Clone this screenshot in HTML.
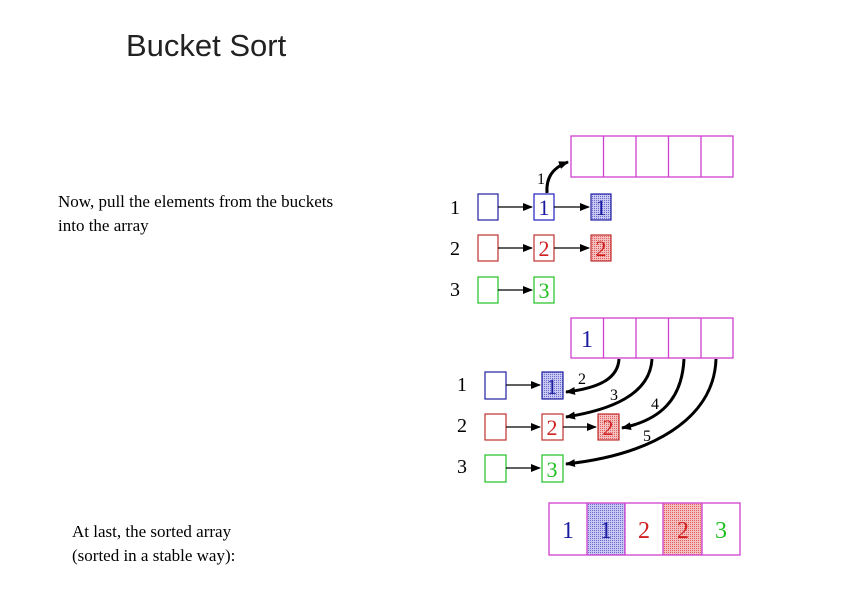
<!DOCTYPE html>
<html><head><meta charset="utf-8"><style>
body{margin:0;background:#fff;width:842px;height:595px;overflow:hidden;position:relative}
.t{position:absolute;font-family:"Liberation Serif",serif;font-size:17px;color:#000;line-height:24px}
</style></head><body>
<div style="position:absolute;left:126px;top:28px;font-family:'Liberation Sans',sans-serif;font-size:31px;color:#222">Bucket Sort</div>
<div class="t" style="left:58px;top:190px">Now, pull the elements from the buckets<br>into the array</div>
<div class="t" style="left:72px;top:520px">At last, the sorted array<br>(sorted in a stable way):</div>
<svg width="842" height="595" style="position:absolute;left:0;top:0" font-family="Liberation Serif, serif">
<defs>
<pattern id="pb" width="2" height="2" patternUnits="userSpaceOnUse"><rect width="2" height="2" fill="#c8c8f0"/><rect width="1" height="1" fill="#6a6ad0"/></pattern>
<pattern id="pr" width="2" height="2" patternUnits="userSpaceOnUse"><rect width="2" height="2" fill="#f4c0c0"/><rect width="1" height="1" fill="#e06060"/></pattern>
<marker id="a" markerWidth="10" markerHeight="8" refX="9" refY="4" orient="auto" markerUnits="userSpaceOnUse"><path d="M0,0L10,4L0,8z" fill="#000"/></marker>
</defs>
<g fill="none" stroke="#d040d0" stroke-width="1.3">
<rect x="571" y="136" width="162" height="41"/><path d="M603.5,136v41M636,136v41M668.5,136v41M701,136v41"/>
<rect x="571" y="318" width="162" height="40"/><path d="M603.5,318v40M636,318v40M668.5,318v40M701,318v40"/>
</g>
<rect x="587" y="503" width="38" height="52" fill="url(#pb)" stroke="#3030b0"/>
<rect x="663" y="503" width="39" height="52" fill="url(#pr)" stroke="#c03030"/>
<g fill="none" stroke="#d040d0" stroke-width="1.3"><rect x="549" y="503" width="191" height="52"/><path d="M587,503v52M625,503v52M663,503v52M702,503v52"/></g>
<g font-size="24" text-anchor="middle">
<text x="568" y="538" fill="#1a1aa0">1</text><text x="606" y="538" fill="#1a1aa0">1</text>
<text x="644" y="538" fill="#d02020">2</text><text x="683" y="538" fill="#d02020">2</text><text x="721" y="538" fill="#20c020">3</text>
<text x="587" y="347" fill="#1a1aa0">1</text>
</g>
<!-- top rows -->
<g font-size="20" text-anchor="middle">
<text x="455" y="214">1</text><text x="455" y="255">2</text><text x="455" y="296">3</text>
<text x="462" y="391">1</text><text x="462" y="432">2</text><text x="462" y="473">3</text>
</g>
<g fill="#fff" stroke-width="1.2">
<rect x="478" y="194" width="20" height="26" stroke="#2020a0"/><rect x="534" y="194" width="20" height="26" stroke="#2020c0"/>
<rect x="591" y="194" width="20" height="26" fill="url(#pb)" stroke="#2020a0"/>
<rect x="478" y="235" width="20" height="26" stroke="#c03030"/><rect x="534" y="235" width="20" height="26" stroke="#c03030"/>
<rect x="591" y="235" width="20" height="26" fill="url(#pr)" stroke="#c03030"/>
<rect x="478" y="277" width="20" height="26" stroke="#20c020"/><rect x="534" y="277" width="20" height="26" stroke="#20c020"/>
<rect x="485" y="372" width="21" height="27" stroke="#2020a0"/><rect x="542" y="372" width="21" height="27" fill="url(#pb)" stroke="#2020a0"/>
<rect x="485" y="414" width="21" height="26" stroke="#c03030"/><rect x="542" y="414" width="21" height="26" stroke="#c03030"/>
<rect x="598" y="414" width="21" height="26" fill="url(#pr)" stroke="#c03030"/>
<rect x="485" y="455" width="21" height="27" stroke="#20c020"/><rect x="542" y="455" width="21" height="27" stroke="#20c020"/>
</g>
<g font-size="22" text-anchor="middle">
<text x="544" y="215" fill="#1a1aa0">1</text><text x="601" y="215" fill="#1a1aa0">1</text>
<text x="544" y="256" fill="#d02020">2</text><text x="601" y="256" fill="#d02020">2</text>
<text x="544" y="298" fill="#20c020">3</text>
<text x="552" y="394" fill="#1a1aa0">1</text>
<text x="552" y="435" fill="#d02020">2</text><text x="608" y="435" fill="#d02020">2</text>
<text x="552" y="477" fill="#20c020">3</text>
</g>
<g stroke="#000" stroke-width="1.2" marker-end="url(#a)">
<path d="M498,207H532"/><path d="M554,207H589"/>
<path d="M498,248H532"/><path d="M554,248H589"/>
<path d="M498,290H532"/>
<path d="M506,385H540"/><path d="M506,427H540"/><path d="M563,427H596"/><path d="M506,468H540"/>
</g>
<g stroke="#000" stroke-width="3" fill="none" marker-end="url(#a)">
<path d="M547,193C546,178 552,168 568,162"/>
<path d="M619,359C618,378 600,388 566,392"/>
<path d="M652,359C650,395 610,410 566,417"/>
<path d="M684,359C682,400 660,420 622,428"/>
<path d="M716,359C714,420 650,455 566,464"/>
</g>
<g font-size="16" text-anchor="middle">
<text x="541" y="184">1</text><text x="582" y="384">2</text><text x="614" y="400">3</text>
<text x="655" y="409">4</text><text x="647" y="441">5</text>
</g>
</svg>
</body></html>
